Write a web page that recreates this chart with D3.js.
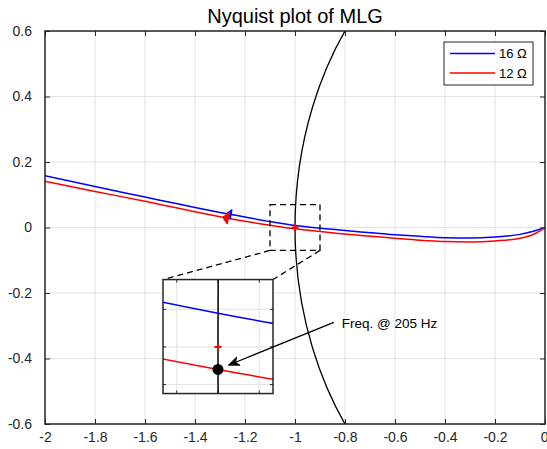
<!DOCTYPE html>
<html>
<head>
<meta charset="utf-8">
<script src="https://cdn.jsdelivr.net/npm/d3@7"></script>
<style>
  body { margin: 0; background: #fff; }
  svg { display: block; }
  text { font-family: "Liberation Sans", Arial, Helvetica, sans-serif; fill: #262626; }
</style>
</head>
<body>
<svg id="chart" width="547" height="449"></svg>
<script>
// ---- axis ticks ----
const xTicks = [-2, -1.8, -1.6, -1.4, -1.2, -1, -0.8, -0.6, -0.4, -0.2, 0];
const xTickLabels = ["-2", "-1.8", "-1.6", "-1.4", "-1.2", "-1", "-0.8", "-0.6", "-0.4", "-0.2", "0"];
const yTicks = [-0.6, -0.4, -0.2, 0, 0.2, 0.4, 0.6];
const yTickLabels = ["-0.6", "-0.4", "-0.2", "0", "0.2", "0.4", "0.6"];

// ---- Nyquist loci of the MLG loop gain (real part / imaginary part) ----
const realPart = [-2, -1.8, -1.6, -1.5, -1.4, -1.3, -1.2, -1.1, -1.0, -0.8, -0.6, -0.5, -0.4, -0.3, -0.2, -0.1, -0.05, -0.02, 0];
const imag16 = [0.158, 0.125, 0.093, 0.077, 0.061, 0.046, 0.032, 0.018, 0.006, -0.009, -0.022, -0.027, -0.031, -0.032, -0.029, -0.021, -0.012, -0.005, 0];
const imag12 = [0.141, 0.110, 0.080, 0.064, 0.048, 0.033, 0.019, 0.007, -0.004, -0.020, -0.033, -0.039, -0.043, -0.044, -0.041, -0.033, -0.022, -0.010, 0];
const seriesNames = ["16 \u03A9", "12 \u03A9"];
const seriesColors = ["#0000ff", "#ff0000"];
const arrowRe = [-1.275, -1.29];          // where the direction arrows sit on each locus

// ---- markers / zoom detail ----
const criticalPoint = [-1, 0];
const zoomBoxRe = [-1.1, -0.9];
const zoomBoxIm = [-0.07, 0.07];
const insetXDomain = [-1.018, -0.982];
const insetYDomain = [-0.0083, 0.012];
const insetXTicks = [-1.0135, -1, -0.9865];
const insetYTicks = [-0.0067, 0, 0.0067];
const freqRe = -1;
const freqIm = imag12[realPart.indexOf(-1)];
const freqLabel = "Freq. @ 205 Hz";

// ---- layout ----
const W = 547, H = 449;
const plot = { left: 45, right: 545, top: 31, bottom: 424 };
const insetArea = { re: [-1.528, -1.088], im: [-0.507, -0.159] };  // placement inside main axes
const labelAt = { re: -0.813, im: -0.308 };
const arrowTail = { re: -0.845, im: -0.29 };

const svg = d3.select("#chart");
const x = d3.scaleLinear().domain([-2, 0]).range([plot.left, plot.right]);
const y = d3.scaleLinear().domain([-0.6, 0.6]).range([plot.bottom, plot.top]);

const defs = svg.append("defs");
defs.append("clipPath").attr("id", "plotClip").append("rect")
  .attr("x", plot.left).attr("y", plot.top)
  .attr("width", plot.right - plot.left).attr("height", plot.bottom - plot.top);

// grid
const grid = svg.append("g").attr("stroke", "#e3e3e3").attr("stroke-width", 1);
xTicks.forEach(t => grid.append("line").attr("x1", x(t)).attr("x2", x(t)).attr("y1", plot.top).attr("y2", plot.bottom));
yTicks.forEach(t => grid.append("line").attr("y1", y(t)).attr("y2", y(t)).attr("x1", plot.left).attr("x2", plot.right));

// axes with inward ticks (all four sides)
const tickLen = 5;
const axB = d3.axisBottom(x).tickValues(xTicks).tickFormat((d, i) => xTickLabels[i]).tickSizeInner(-tickLen).tickSizeOuter(0).tickPadding(8);
const axT = d3.axisTop(x).tickValues(xTicks).tickFormat("").tickSizeInner(-tickLen).tickSizeOuter(0);
const axL = d3.axisLeft(y).tickValues(yTicks).tickFormat((d, i) => yTickLabels[i]).tickSizeInner(-tickLen).tickSizeOuter(0).tickPadding(13);
const axR = d3.axisRight(y).tickValues(yTicks).tickFormat("").tickSizeInner(-tickLen).tickSizeOuter(0);

function styleAxis(g) {
  g.select(".domain").remove();
  g.selectAll(".tick line").attr("stroke", "#262626").attr("stroke-width", 1);
  g.selectAll(".tick text").attr("font-size", 14).attr("fill", "#262626")
    .style("font-family", '"Liberation Sans", Arial, sans-serif');
}
const bottomAxis = svg.append("g").attr("transform", `translate(0,${plot.bottom})`).call(axB).call(styleAxis);
// keep the last label inside the page edge
bottomAxis.selectAll(".tick text").filter(d => d === 0).attr("text-anchor", "end").attr("dx", 3);
svg.append("g").attr("transform", `translate(0,${plot.top})`).call(axT).call(styleAxis);
svg.append("g").attr("transform", `translate(${plot.left},0)`).call(axL).call(styleAxis);
svg.append("g").attr("transform", `translate(${plot.right},0)`).call(axR).call(styleAxis);

// helpers
function interpIm(re, ims) {
  for (let i = 0; i < realPart.length - 1; i++) {
    if (re >= realPart[i] && re <= realPart[i + 1]) {
      const t = (re - realPart[i]) / (realPart[i + 1] - realPart[i]);
      return { im: ims[i] + t * (ims[i + 1] - ims[i]), i };
    }
  }
  return { im: ims[ims.length - 1], i: realPart.length - 2 };
}

function drawLoci(g, sx, sy, withArrows, width) {
  const series = [imag16, imag12];
  series.forEach((ims, k) => {
    const pts = realPart.map((r, i) => [r, ims[i]]);
    g.append("path").datum(pts)
      .attr("d", d3.line().x(d => sx(d[0])).y(d => sy(d[1])).curve(d3.curveMonotoneX))
      .attr("fill", "none").attr("stroke", seriesColors[k]).attr("stroke-width", width);
  });
  if (withArrows) {
    series.forEach((ims, k) => {
      const { im, i } = interpIm(arrowRe[k], ims);
      const tx = sx(arrowRe[k]), ty = sy(im);
      // travel direction: towards decreasing real part
      let dx = sx(realPart[i]) - sx(realPart[i + 1]);
      let dy = sy(ims[i]) - sy(ims[i + 1]);
      const n = Math.hypot(dx, dy); dx /= n; dy /= n;
      const len = k === 0 ? 5 : 6, hw = k === 0 ? 5 : 6;
      const bx = tx - dx * len, by = ty - dy * len;
      const px = -dy, py = dx;
      g.append("path")
        .attr("d", `M${tx},${ty}L${bx + px * hw},${by + py * hw}L${bx - px * hw},${by - py * hw}Z`)
        .attr("fill", seriesColors[k]).attr("stroke", seriesColors[k]).attr("stroke-width", 1);
    });
  }
}

function drawPlus(g, cx, cy) {
  const s = 3.5;
  g.append("path").attr("d", `M${cx - s},${cy}H${cx + s}M${cx},${cy - s}V${cy + s}`)
    .attr("stroke", "#ff0000").attr("stroke-width", 2);
}

// main plot contents
const main = svg.append("g").attr("clip-path", "url(#plotClip)");
// unit circle
main.append("ellipse")
  .attr("cx", x(0)).attr("cy", y(0))
  .attr("rx", x(1) - x(0)).attr("ry", y(0) - y(1))
  .attr("fill", "none").attr("stroke", "#000").attr("stroke-width", 1.3);
drawLoci(main, x, y, true, 1.5);
drawPlus(main, x(criticalPoint[0]), y(criticalPoint[1]));

// dashed zoom box and connectors
const dash = "6,4";
svg.append("rect")
  .attr("x", x(zoomBoxRe[0])).attr("y", y(zoomBoxIm[1]))
  .attr("width", x(zoomBoxRe[1]) - x(zoomBoxRe[0])).attr("height", y(zoomBoxIm[0]) - y(zoomBoxIm[1]))
  .attr("fill", "none").attr("stroke", "#000").attr("stroke-width", 1.3).attr("stroke-dasharray", dash);

const ix0 = x(insetArea.re[0]), ix1 = x(insetArea.re[1]);
const iy0 = y(insetArea.im[1]), iy1 = y(insetArea.im[0]);
svg.append("line").attr("x1", x(zoomBoxRe[0])).attr("y1", y(zoomBoxIm[0])).attr("x2", ix0).attr("y2", iy0)
  .attr("stroke", "#000").attr("stroke-width", 1.3).attr("stroke-dasharray", dash);
svg.append("line").attr("x1", x(zoomBoxRe[1])).attr("y1", y(zoomBoxIm[0])).attr("x2", ix1).attr("y2", iy0)
  .attr("stroke", "#000").attr("stroke-width", 1.3).attr("stroke-dasharray", dash);

// inset axes
const xi = d3.scaleLinear().domain(insetXDomain).range([ix0, ix1]);
const yi = d3.scaleLinear().domain(insetYDomain).range([iy1, iy0]);
defs.append("clipPath").attr("id", "insetClip").append("rect")
  .attr("x", ix0).attr("y", iy0).attr("width", ix1 - ix0).attr("height", iy1 - iy0);
svg.append("rect").attr("x", ix0).attr("y", iy0).attr("width", ix1 - ix0).attr("height", iy1 - iy0).attr("fill", "#fff");
const ig = svg.append("g").attr("stroke", "#e3e3e3").attr("stroke-width", 1);
insetXTicks.forEach(t => ig.append("line").attr("x1", xi(t)).attr("x2", xi(t)).attr("y1", iy0).attr("y2", iy1));
insetYTicks.forEach(t => ig.append("line").attr("y1", yi(t)).attr("y2", yi(t)).attr("x1", ix0).attr("x2", ix1));
const iTick = svg.append("g").attr("stroke", "#262626").attr("stroke-width", 1);
insetXTicks.forEach(t => {
  iTick.append("line").attr("x1", xi(t)).attr("x2", xi(t)).attr("y1", iy0).attr("y2", iy0 + 3);
  iTick.append("line").attr("x1", xi(t)).attr("x2", xi(t)).attr("y1", iy1).attr("y2", iy1 - 3);
});
insetYTicks.forEach(t => {
  iTick.append("line").attr("y1", yi(t)).attr("y2", yi(t)).attr("x1", ix0).attr("x2", ix0 + 3);
  iTick.append("line").attr("y1", yi(t)).attr("y2", yi(t)).attr("x1", ix1).attr("x2", ix1 - 3);
});
const inset = svg.append("g").attr("clip-path", "url(#insetClip)");
inset.append("ellipse")
  .attr("cx", xi(0)).attr("cy", yi(0))
  .attr("rx", xi(1) - xi(0)).attr("ry", yi(0) - yi(1))
  .attr("fill", "none").attr("stroke", "#000").attr("stroke-width", 1.5);
drawLoci(inset, xi, yi, false, 1.5);
drawPlus(inset, xi(criticalPoint[0]), yi(criticalPoint[1]));
const dotX = xi(freqRe), dotY = yi(freqIm);
inset.append("circle").attr("cx", dotX).attr("cy", dotY).attr("r", 5.5).attr("fill", "#000");
svg.append("rect").attr("x", ix0).attr("y", iy0).attr("width", ix1 - ix0).attr("height", iy1 - iy0)
  .attr("fill", "none").attr("stroke", "#262626").attr("stroke-width", 1.5);

// frequency annotation arrow
const tailX = x(arrowTail.re), tailY = y(arrowTail.im);
let ux = tailX - dotX, uy = tailY - dotY;
const un = Math.hypot(ux, uy); ux /= un; uy /= un;
const tipX = dotX + ux * 11, tipY = dotY + uy * 11;
const aLen = 11, aHw = 4.5, aNotch = 8;
const backX = tipX + ux * aLen, backY = tipY + uy * aLen;
const nX = tipX + ux * aNotch, nY = tipY + uy * aNotch;
svg.append("line").attr("x1", tailX).attr("y1", tailY).attr("x2", nX).attr("y2", nY)
  .attr("stroke", "#000").attr("stroke-width", 1.3);
svg.append("path")
  .attr("d", `M${tipX},${tipY}L${backX - uy * aHw},${backY + ux * aHw}L${nX},${nY}L${backX + uy * aHw},${backY - ux * aHw}Z`)
  .attr("fill", "#000").attr("stroke", "#000").attr("stroke-width", 0.8);
svg.append("text").attr("x", x(labelAt.re)).attr("y", y(labelAt.im))
  .attr("font-size", 13.5).style("fill", "#000").text(freqLabel);

// axes box
svg.append("rect").attr("x", plot.left).attr("y", plot.top)
  .attr("width", plot.right - plot.left).attr("height", plot.bottom - plot.top)
  .attr("fill", "none").attr("stroke", "#262626").attr("stroke-width", 1.5);

// title
svg.append("text").attr("x", (plot.left + plot.right) / 2).attr("y", 23)
  .attr("text-anchor", "middle").attr("font-size", 20).style("fill", "#000")
  .text("Nyquist plot of MLG");

// legend
const lg = svg.append("g").attr("transform", "translate(444,42)");
lg.append("rect").attr("width", 89).attr("height", 43).attr("fill", "#fff")
  .attr("stroke", "#262626").attr("stroke-width", 1);
seriesNames.forEach((name, k) => {
  const ly = 11.5 + k * 19.5;
  lg.append("line").attr("x1", 6).attr("x2", 51).attr("y1", ly).attr("y2", ly)
    .attr("stroke", seriesColors[k]).attr("stroke-width", 1.5);
  lg.append("text").attr("x", 55).attr("y", ly + 4.5).attr("font-size", 13).style("fill", "#000").text(name);
});
</script>
</body>
</html>
